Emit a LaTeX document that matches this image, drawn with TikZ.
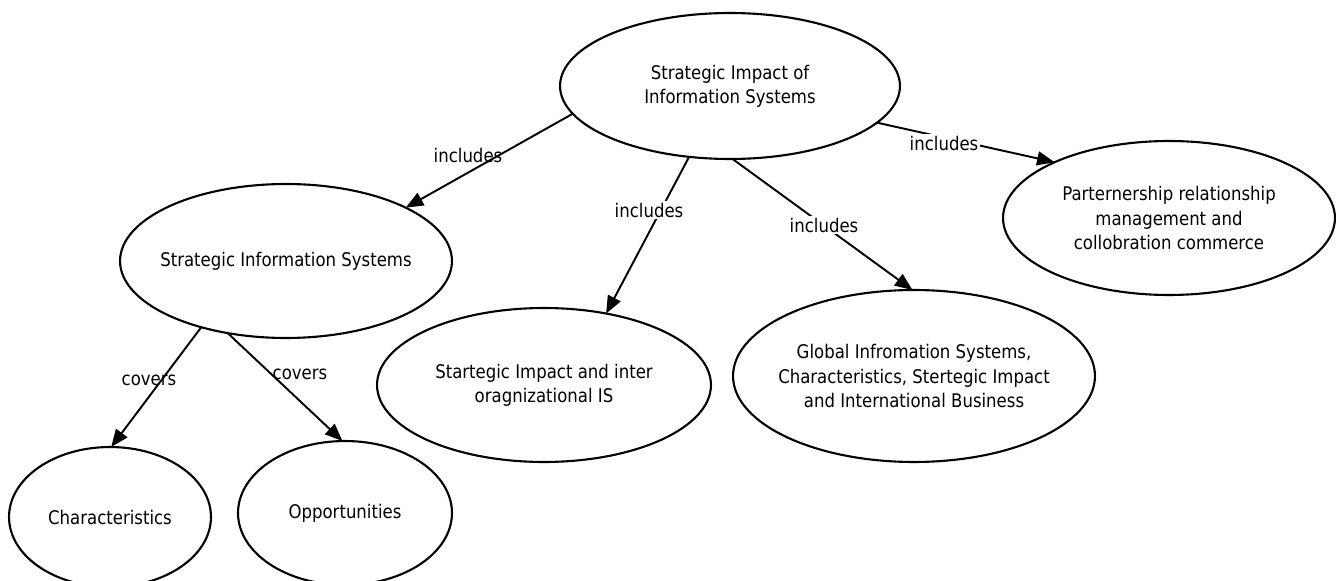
\documentclass[tikz,border=0pt]{standalone}
\usepackage{fontspec}
\setmainfont{DejaVu Sans}[FakeStretch=0.88]
\usetikzlibrary{shapes.geometric,arrows.meta}
\begin{document}
\begin{tikzpicture}[x=0.02cm, y=-0.02cm, line width=1.2pt,
   font=\fontsize{10.7}{13.7}\selectfont,
   concept/.style={ellipse, draw, inner sep=0pt, outer sep=0pt},
   txt/.style={align=center},
   link/.style={-{Triangle[length=10pt,width=8pt]}, line width=1.1pt},
   lbl/.style={inner sep=1pt}]
\useasboundingbox (0,0) rectangle (1336,581);
\clip (0,0) rectangle (1336,581);
\fill[white] (0,0) rectangle (1336,581);
% concepts
\node[concept, minimum width=6.8cm, minimum height=2.92cm,
   label={[txt]center:Strategic Impact of\\Information Systems}] (top) at (730,86) {};
\node[concept, minimum width=6.64cm, minimum height=3.08cm,
   label={[txt]center:Strategic Information Systems}] (sis) at (286,261) {};
\node[concept, minimum width=6.64cm, minimum height=3.08cm,
   label={[txt]center:Parternership relationship\\management and\\collobration commerce}] (part) at (1169,218) {};
\node[concept, minimum width=6.68cm, minimum height=3.08cm,
   label={[txt]center:Startegic Impact and inter\\oragnizational IS}] (inter) at (544,385) {};
\node[concept, minimum width=7.24cm, minimum height=3.44cm,
   label={[txt]center:{Global Infromation Systems,\\Characteristics, Stertegic Impact\\and International Business}}] (glob) at (914,376) {};
\node[concept, minimum width=4.04cm, minimum height=2.8cm,
   label={[txt]center:Characteristics}] (char) at (110,517) {};
\node[concept, minimum width=4.28cm, minimum height=2.88cm,
   label={[txt]center:Opportunities}] (opp) at (345,513) {};
% links
\draw[link] (top.190) -- (sis.24);
\draw[link] (top.240) -- (inter.49);
\draw[link] (top.272) -- (glob.91);
\draw[link] (top.346) -- (part.154);
\draw[link] (sis.218) -- (char.89);
\draw[link] (sis.231) -- (opp.92);
% link labels
\node[lbl] (inc1) at (468,155) {includes};
\node[lbl, fill=white] (inc2) at (649,210) {includes};
\node[lbl, fill=white] (inc3) at (824,225) {includes};
\node[lbl, fill=white] (inc4) at (944,143) {includes};
\node[lbl] (cov1) at (149,380) {covers};
\node[lbl] (cov2) at (300,374) {covers};
\end{tikzpicture}
\end{document}
